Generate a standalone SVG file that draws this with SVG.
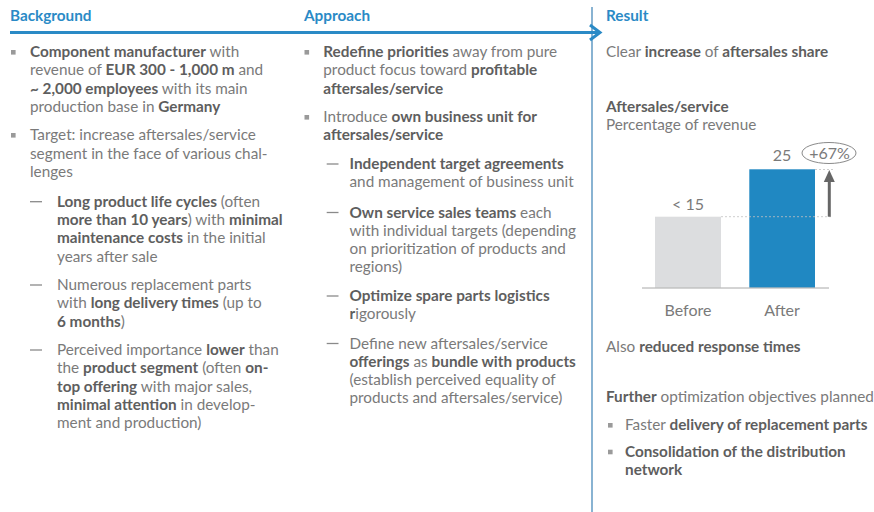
<svg xmlns="http://www.w3.org/2000/svg" width="874" height="512" viewBox="0 0 874 512">
<style>
text{font-family:Lato,"Open Sans","Liberation Sans",sans-serif;font-size:15.3px;fill:#7a7a7a}
.h{font-weight:bold;fill:#2a8ac6;font-size:15.3px}
.b{font-weight:bold;fill:#5e5e5e}
.sq{fill:#9a9a9a}
.dash{stroke:#8a8a8a;stroke-width:1.3}
.c{text-anchor:middle;font-size:16px}
</style>
<rect width="874" height="512" fill="#ffffff"/>
<g id="connectors">
<line x1="592" y1="7" x2="592" y2="512" stroke="#3a80b4" stroke-width="1.2"/>
<line x1="10" y1="32.5" x2="599" y2="32.5" stroke="#2a8ac6" stroke-width="3"/>
<polyline points="590,25 600,32.5 590,40" fill="none" stroke="#2a8ac6" stroke-width="3"/>
</g>
<g id="background">
<text class="h" x="10" y="21">Background</text>
<rect class="sq" x="11" y="50" width="4.6" height="4.6"/>
<text x="30" y="57"><tspan class="b">Component manufacturer</tspan> with</text>
<text x="30" y="75.3">revenue of <tspan class="b">EUR 300 - 1,000 m</tspan> and</text>
<text x="30" y="93.6"><tspan class="b">~ 2,000 employees</tspan> with its main</text>
<text x="30" y="112">production base in <tspan class="b">Germany</tspan></text>
<rect class="sq" x="11" y="133" width="4.6" height="4.6"/>
<text x="30" y="140.3">Target: increase aftersales/service</text>
<text x="30" y="158.6">segment in the face of various chal-</text>
<text x="30" y="177">lenges</text>
<line class="dash" x1="30" y1="201.7" x2="42" y2="201.7"/>
<text x="57" y="206.7"><tspan class="b">Long product life cycles</tspan> (often</text>
<text x="57" y="225"><tspan class="b">more than 10 years</tspan>) with <tspan class="b">minimal</tspan></text>
<text x="57" y="243.3"><tspan class="b">maintenance costs</tspan> in the initial</text>
<text x="57" y="261.7">years after sale</text>
<line class="dash" x1="30" y1="285" x2="42" y2="285"/>
<text x="57" y="290">Numerous replacement parts</text>
<text x="57" y="308.3">with <tspan class="b">long delivery times</tspan> (up to</text>
<text x="57" y="326.7"><tspan class="b">6 months</tspan>)</text>
<line class="dash" x1="30" y1="350" x2="42" y2="350"/>
<text x="57" y="355">Perceived importance <tspan class="b">lower</tspan> than</text>
<text x="57" y="373.3">the <tspan class="b">product segment</tspan> (often <tspan class="b">on-</tspan></text>
<text x="57" y="391.7"><tspan class="b">top offering</tspan> with major sales,</text>
<text x="57" y="410"><tspan class="b">minimal attention</tspan> in develop-</text>
<text x="57" y="428.3">ment and production)</text>
</g>
<g id="approach">
<text class="h" x="304" y="21">Approach</text>
<rect class="sq" x="304.5" y="50" width="4.6" height="4.6"/>
<text x="323.3" y="57"><tspan class="b">Redefine priorities</tspan> away from pure</text>
<text x="323.3" y="75.3">product focus toward <tspan class="b">profitable</tspan></text>
<text x="323.3" y="93.6"><tspan class="b">aftersales/service</tspan></text>
<rect class="sq" x="304.5" y="115" width="4.6" height="4.6"/>
<text x="323.3" y="122">Introduce <tspan class="b">own business unit for</tspan></text>
<text x="323.3" y="140.3"><tspan class="b">aftersales/service</tspan></text>
<line class="dash" x1="326.7" y1="164" x2="338.5" y2="164"/>
<text x="349.5" y="169"><tspan class="b">Independent target agreements</tspan></text>
<text x="349.5" y="187.3">and management of business unit</text>
<line class="dash" x1="326.7" y1="212.5" x2="338.5" y2="212.5"/>
<text x="349.5" y="217.5"><tspan class="b">Own service sales teams</tspan> each</text>
<text x="349.5" y="235.8">with individual targets (depending</text>
<text x="349.5" y="254.1">on prioritization of products and</text>
<text x="349.5" y="272.4">regions)</text>
<line class="dash" x1="326.7" y1="296" x2="338.5" y2="296"/>
<text x="349.5" y="301"><tspan class="b">Optimize spare parts logistics</tspan></text>
<text x="349.5" y="319.3"><tspan class="b">r</tspan>igorously</text>
<line class="dash" x1="326.7" y1="343.5" x2="338.5" y2="343.5"/>
<text x="349.5" y="348.5">Define new aftersales/service</text>
<text x="349.5" y="366.8"><tspan class="b">offerings</tspan> as <tspan class="b">bundle with products</tspan></text>
<text x="349.5" y="385.1">(establish perceived equality of</text>
<text x="349.5" y="403.4">products and aftersales/service)</text>
</g>
<g id="result">
<text class="h" x="606" y="21">Result</text>
<text x="606" y="57.3">Clear <tspan class="b">increase</tspan> of <tspan class="b">aftersales share</tspan></text>
<text x="606" y="111.7" class="b">Aftersales/service</text>
<text x="606" y="130">Percentage of revenue</text>
<text x="606" y="351.7">Also <tspan class="b">reduced response times</tspan></text>
<text x="606" y="401.7"><tspan class="b">Further</tspan> optimization objectives planned</text>
<rect class="sq" x="608" y="423" width="4.6" height="4.6"/>
<text x="625" y="430">Faster <tspan class="b">delivery of replacement parts</tspan></text>
<rect class="sq" x="608" y="449.7" width="4.6" height="4.6"/>
<text x="625" y="456.7" class="b">Consolidation of the distribution</text>
<text x="625" y="475" class="b">network</text>
</g>
<g id="chart">
<rect x="655" y="216.7" width="66" height="71" fill="#dcdddf"/>
<rect x="749.3" y="169.3" width="65.7" height="118.4" fill="#2088c2"/>
<line x1="642" y1="288" x2="829" y2="288" stroke="#a8a8a8" stroke-width="1"/>
<line x1="721" y1="216.7" x2="833" y2="216.7" stroke="#c0c0c0" stroke-width="0.8" stroke-dasharray="2,2"/>
<line x1="815" y1="169.5" x2="833" y2="169.5" stroke="#c0c0c0" stroke-width="0.8" stroke-dasharray="2,2"/>
<line x1="829.3" y1="216.7" x2="829.3" y2="180" stroke="#666666" stroke-width="3"/>
<polygon points="829.3,170 823.8,182 834.8,182" fill="#666666"/>
<ellipse cx="829" cy="153" rx="27" ry="10.5" fill="none" stroke="#8a8a8a" stroke-width="1"/>
<text class="c" x="829.5" y="158.8">+67%</text>
<text class="c" x="782" y="161">25</text>
<text class="c" x="688" y="210">&lt; 15</text>
<text class="c" x="688" y="316">Before</text>
<text class="c" x="782" y="316">After</text>
</g>
</svg>
